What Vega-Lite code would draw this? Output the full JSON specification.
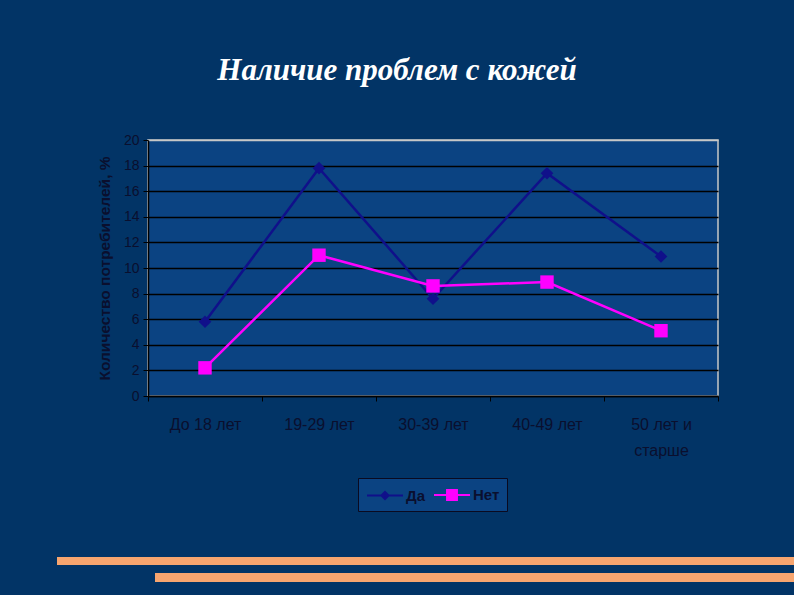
{
  "$schema": "https://vega.github.io/schema/vega-lite/v6.json",
  "width": 570,
  "height": 256,
  "autosize": {"type": "none"},
  "padding": {"left": 148, "top": 140, "right": 76, "bottom": 199},
  "background": "#023466",
  "title": {
    "text": "Наличие проблем с кожей",
    "font": "Liberation Serif",
    "fontStyle": "italic",
    "fontWeight": "bold",
    "fontSize": 31,
    "color": "#ffffff",
    "anchor": "middle",
    "baseline": "alphabetic",
    "dx": -36,
    "offset": 22
  },
  "data": {
    "values": [
      {"age": "До 18 лет", "answer": "Да", "value": 5.8},
      {"age": "19-29 лет", "answer": "Да", "value": 17.8},
      {"age": "30-39 лет", "answer": "Да", "value": 7.6},
      {"age": "40-49 лет", "answer": "Да", "value": 17.4},
      {"age": "50 лет и старше", "answer": "Да", "value": 10.9},
      {"age": "До 18 лет", "answer": "Нет", "value": 2.2},
      {"age": "19-29 лет", "answer": "Нет", "value": 11.0},
      {"age": "30-39 лет", "answer": "Нет", "value": 8.6},
      {"age": "40-49 лет", "answer": "Нет", "value": 8.9},
      {"age": "50 лет и старше", "answer": "Нет", "value": 5.1}
    ]
  },
  "layer": [
    {
      "encoding": {
        "x": {
          "field": "age",
          "type": "ordinal",
          "sort": null,
          "scale": {"paddingInner": 0, "paddingOuter": 0},
          "axis": {
            "title": null,
            "labelAngle": 0,
            "tickBand": "extent",
            "labelPadding": 15,
            "labelLineHeight": 26,
            "labelExpr": "datum.value == '50 лет и старше' ? ['50 лет и', 'старше'] : datum.value"
          }
        },
        "y": {
          "field": "value",
          "type": "quantitative",
          "scale": {"domain": [0, 20]},
          "axis": {
            "title": "Количество потребителей, %",
            "tickCount": 10,
            "gridColor": {"condition": {"test": "datum.value === 20", "value": "#c8c8c8"}, "value": "#000000"},
            "titleFontWeight": "bold",
            "titleFontSize": 15.5,
            "titlePadding": 11
          }
        },
        "color": {
          "field": "answer",
          "type": "nominal",
          "scale": {"domain": ["Да", "Нет"], "range": ["#10108a", "#ff00ff"]},
          "legend": null
        }
      },
      "layer": [
        {
          "mark": {"type": "line", "strokeWidth": 2.5},
          "encoding": {
            "color": {
              "field": "answer",
              "type": "nominal",
              "legend": {
                "title": null,
                "orient": "none",
                "legendX": 210,
                "legendY": 338,
                "direction": "horizontal",
                "symbolSize": 324,
                "symbolStrokeWidth": 2,
                "symbolOffset": 10,
                "labelOffset": 11,
                "columnPadding": 4,
                "padding": 7,
                "fillColor": "#0b4382",
                "strokeColor": "#0a0a20",
                "labelFont": "Liberation Sans",
                "labelFontSize": 15,
                "labelFontWeight": "bold",
                "labelColor": "#0a0f2e",
                "encode": {
                  "symbols": {
                    "update": {
                      "shape": {"signal": "datum.value === 'Да' ? 'M-2,0H2M0,-0.4L0.4,0L0,0.4L-0.4,0Z' : 'M-2,0H2M-0.55,-0.55H0.55V0.55H-0.55Z'"},
                      "fill": {"signal": "datum.value === 'Да' ? '#10108a' : '#ff00ff'"},
                      "fillOpacity": {"value": 1}
                    }
                  }
                }
              }
            }
          }
        },
        {
          "transform": [{"filter": "datum.answer === 'Да'"}],
          "mark": {"type": "point", "shape": "diamond", "filled": true, "opacity": 1, "size": 160}
        },
        {
          "transform": [{"filter": "datum.answer === 'Нет'"}],
          "mark": {"type": "point", "shape": "square", "filled": true, "opacity": 1, "size": 180}
        }
      ]
    },
    {
      "mark": {"type": "rule", "color": "#f7a56f", "strokeCap": "butt"},
      "encoding": {
        "x": {"datum": -15.96, "type": "quantitative", "scale": {"domain": [0, 100], "nice": false, "zero": false}, "axis": null},
        "x2": {"datum": 113.4},
        "y": {"datum": -64.5, "type": "quantitative", "scale": {"domain": [0, 100], "nice": false, "zero": false}, "axis": null},
        "strokeWidth": {"value": 8}
      }
    },
    {
      "mark": {"type": "rule", "color": "#f7a56f", "strokeCap": "butt"},
      "encoding": {
        "x": {"datum": 1.23, "type": "quantitative", "scale": {"domain": [0, 100], "nice": false, "zero": false}, "axis": null},
        "x2": {"datum": 113.4},
        "y": {"datum": -70.9, "type": "quantitative", "scale": {"domain": [0, 100], "nice": false, "zero": false}, "axis": null},
        "strokeWidth": {"value": 9}
      }
    }
  ],
  "resolve": {"scale": {"x": "independent", "y": "independent"}},
  "config": {
    "font": "Liberation Sans",
    "view": {"fill": "#0b4382", "stroke": "#c8c8c8", "strokeWidth": 1.5},
    "axis": {
      "labelFont": "Liberation Sans",
      "labelFontSize": 16,
      "labelColor": "#0a0f2e",
      "titleColor": "#0a0f2e",
      "titleFont": "Liberation Sans",
      "domainColor": "#000000",
      "domainWidth": 1.5,
      "tickColor": "#000000",
      "tickSize": 5
    },
    "axisY": {"gridWidth": 1.5, "labelFontSize": 14, "labelPadding": 4},
    "axisX": {"grid": false}
  }
}
